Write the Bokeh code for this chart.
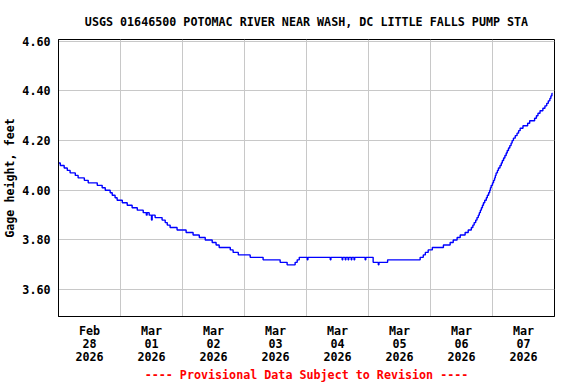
from bokeh.plotting import figure
from bokeh.models import FixedTicker, Title, Range1d, NumeralTickFormatter
from bokeh.embed import file_html
from bokeh.resources import INLINE

# Hours after 2026-02-28 00:00 (15-minute gage record)
hours = [
    0.0, 0.7, 2.2, 3.4, 4.5, 6.5, 7.6, 10.0, 11.5, 15.0, 16.9, 18.1, 20.0, 20.8,
    21.9, 22.7, 24.7, 26.6, 28.5, 30.5, 32.8, 34.0, 34.3, 35.1, 36.0, 36.25, 37.4,
    40.1, 41.3, 42.1, 43.2, 45.9, 49.4, 52.1, 54.5, 56.8, 59.5, 61.0, 62.2, 66.5,
    67.6, 69.6, 74.2, 79.2, 85.8, 88.5, 91.6, 92.4, 93.2,
    96.3, 96.55, 105.2, 105.45, 109.8, 110.05, 111.0, 111.25, 112.1, 112.35,
    113.3, 113.55, 114.4, 114.65, 118.7, 118.95,
    121.8, 123.8, 124.05, 127.4, 140.0, 141.2, 142.0, 143.1, 144.7, 149.0, 151.6,
    152.8, 154.3, 155.5, 157.4, 158.6, 159.8, 160.4, 160.9, 161.5, 162.0, 162.5,
    162.9, 163.3, 163.7, 164.1, 164.5, 165.0, 165.6, 166.0, 166.5, 166.9, 167.2,
    167.5, 168.0, 168.4, 168.8, 169.1, 169.4, 169.9, 170.3, 170.9, 171.4, 171.8,
    172.3, 172.8, 173.3, 173.7, 174.2, 174.7, 175.2, 175.6, 176.1, 176.8, 177.5,
    178.1, 178.7, 179.8, 181.6, 182.4, 184.3, 185.0, 185.6, 186.4, 187.5, 188.3,
    189.0, 189.6, 190.2, 190.6, 191.0, 191.3,
]
gage_ft = [
    4.11, 4.10, 4.09, 4.08, 4.07, 4.06, 4.05, 4.04, 4.03, 4.02, 4.01, 4.00, 3.99, 3.98,
    3.97, 3.96, 3.95, 3.94, 3.93, 3.92, 3.91, 3.90, 3.91, 3.90, 3.88, 3.90, 3.89,
    3.88, 3.87, 3.86, 3.85, 3.84, 3.83, 3.82, 3.81, 3.80, 3.79, 3.78, 3.77, 3.76,
    3.75, 3.74, 3.73, 3.72, 3.71, 3.70, 3.71, 3.72, 3.73,
    3.72, 3.73, 3.72, 3.73, 3.72, 3.73, 3.72, 3.73, 3.72, 3.73,
    3.72, 3.73, 3.72, 3.73, 3.72, 3.73,
    3.71, 3.70, 3.71, 3.72, 3.73, 3.74, 3.75, 3.76, 3.77, 3.78, 3.79,
    3.80, 3.81, 3.82, 3.83, 3.84, 3.85, 3.86, 3.87, 3.88, 3.89, 3.90,
    3.91, 3.92, 3.93, 3.94, 3.95, 3.96, 3.97, 3.98, 3.99, 4.00, 4.01,
    4.02, 4.03, 4.04, 4.05, 4.06, 4.07, 4.08, 4.09, 4.10, 4.11, 4.12,
    4.13, 4.14, 4.15, 4.16, 4.17, 4.18, 4.19, 4.20, 4.21, 4.22, 4.23,
    4.24, 4.25, 4.26, 4.27, 4.28, 4.29, 4.30, 4.31, 4.32, 4.33, 4.34,
    4.35, 4.36, 4.37, 4.38, 4.39, 4.39,
]

tick_hours = [12, 36, 60, 84, 108, 132, 156, 180]
tick_labels = ["Feb\n28\n2026", "Mar\n01\n2026", "Mar\n02\n2026", "Mar\n03\n2026",
               "Mar\n04\n2026", "Mar\n05\n2026", "Mar\n06\n2026", "Mar\n07\n2026"]
day_bounds = [24, 48, 72, 96, 120, 144, 168]
y_ticks = [3.6, 3.8, 4.0, 4.2, 4.4, 4.6]

FONT = "DejaVu Sans Mono"
FS = "11.7px"

p = figure(width=576, height=384, output_backend="svg", toolbar_location=None,
           x_range=Range1d(0, 192), y_range=Range1d(3.492, 4.607),
           min_border_left=58, min_border_right=22, min_border_top=39,
           min_border_bottom=68, background_fill_color="white",
           border_fill_color="white")

p.step(hours, gage_ft, mode="after", line_color="#0000ff", line_width=1.4)

p.title.text = "USGS 01646500 POTOMAC RIVER NEAR WASH, DC LITTLE FALLS PUMP STA"
p.title.align = "center"
p.title.text_font = FONT
p.title.text_font_size = FS
p.title.text_font_style = "bold"
p.title.text_color = "black"
p.title.standoff = 21

foot = Title(text="---- Provisional Data Subject to Revision ----", align="center",
             text_color="red", text_font=FONT, text_font_size=FS,
             text_font_style="bold", standoff=-4)
p.add_layout(foot, "below")

p.outline_line_color = "black"
p.outline_line_width = 1
p.outline_line_alpha = 1

for ax in (p.xaxis[0], p.yaxis[0]):
    ax.axis_line_color = "black"
    ax.major_tick_line_color = None
    ax.minor_tick_line_color = None
    ax.major_tick_out = 0
    ax.major_tick_in = 0
    ax.minor_tick_out = 0
    ax.major_label_text_font = FONT
    ax.major_label_text_font_size = FS
    ax.major_label_text_font_style = "bold"
    ax.major_label_text_color = "black"
    ax.major_label_standoff = 8

p.xaxis.ticker = FixedTicker(ticks=tick_hours)
p.xaxis.major_label_overrides = dict(zip(tick_hours, tick_labels))
p.xaxis.major_label_text_line_height = 0.96
p.xaxis.major_label_standoff = 7

p.yaxis.ticker = FixedTicker(ticks=y_ticks)
p.yaxis.formatter = NumeralTickFormatter(format="0.00")
p.yaxis.axis_label = "Gage height, feet"
p.yaxis.axis_label_text_font = FONT
p.yaxis.axis_label_text_font_size = FS
p.yaxis.axis_label_text_font_style = "bold"
p.yaxis.axis_label_text_color = "black"
p.yaxis.axis_label_standoff = 2

p.xgrid.ticker = FixedTicker(ticks=day_bounds)
p.ygrid.ticker = FixedTicker(ticks=y_ticks)
for g in (p.xgrid[0], p.ygrid[0]):
    g.grid_line_color = "#c8c8c8"
    g.grid_line_width = 1

open("out.html", "w").write(file_html(p, INLINE))
